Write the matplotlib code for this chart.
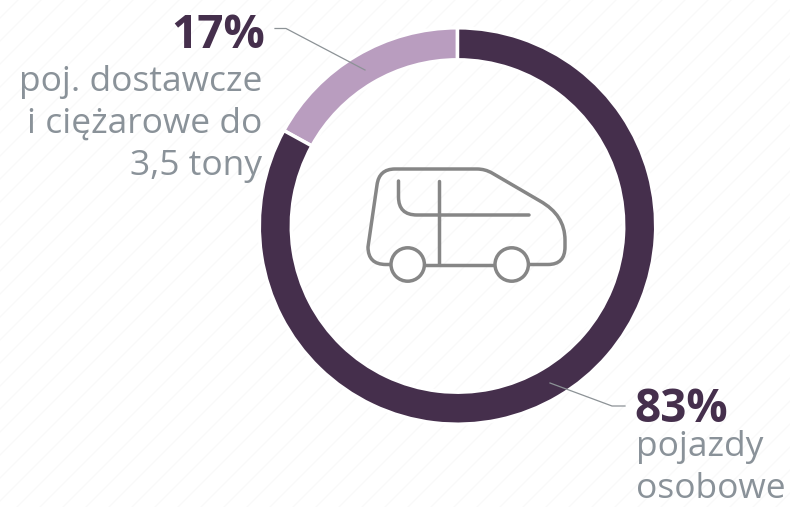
import numpy as np
import matplotlib
matplotlib.use("Agg")
import matplotlib.pyplot as plt
from matplotlib.path import Path
from matplotlib.patches import PathPatch, Circle

# udział pojazdów w parku
shares = [17, 83]
share_labels = ["17%", "83%"]
desc_small = "poj. dostawcze\ni ciężarowe do\n3,5 tony"
desc_large = "pojazdy\nosobowe"

ring_colors = ["#b99dbf", "#452f4c"]
text_dark = "#452f4c"
text_grey = "#8a9299"
icon_grey = "#868686"

plt.rcParams["font.family"] = ["Open Sans", "DejaVu Sans"]

fig = plt.figure(figsize=(7.9, 5.07), dpi=100)
ax = fig.add_axes([0, 0, 1, 1])

# tło w delikatne ukośne paski
for c in np.arange(-100, 1400, 23):
    ax.plot([c, c - 600], [-20, 580], color="#f9f9f9", lw=0.9, zorder=0)

# pierścień - oś y odwrócona, więc kierunek counterclock też
ax.pie(shares, colors=ring_colors, startangle=-90, counterclock=False,
       center=(457.5, 226), radius=198.2,
       wedgeprops=dict(width=32, edgecolor="white", linewidth=2.5, zorder=2))
ax.set_xlim(0, 790)
ax.set_ylim(507, 0)
ax.set_aspect("equal")
ax.axis("off")

# linie odniesienia
ax.plot([275, 286, 365], [28.5, 28.5, 70], color="#8c9296", lw=0.9, zorder=3)
ax.plot([550, 612, 625], [383, 406, 406], color="#8c9296", lw=0.9, zorder=3)

# opisy
ax.text(265, 35, share_labels[0], ha="right", va="center", fontsize=33,
        fontweight="bold", color=text_dark)
ax.text(262, 124, desc_small, ha="right", va="center", fontsize=25.5,
        color=text_grey, linespacing=1.31)
ax.text(634, 410, share_labels[1], ha="left", va="center", fontsize=33,
        fontweight="bold", color=text_dark)
ax.text(636, 468, desc_large, ha="left", va="center", fontsize=25.5,
        color=text_grey, linespacing=1.31)

# ikona samochodu
body = Path(
    [(391, 264.5), (386, 264.5), (368, 264.5), (368, 247),
     (377, 185), (379, 169), (395, 169),
     (477, 169), (485, 169), (492, 173),
     (540, 201), (565, 215), (565, 240),
     (565, 247), (565, 264.5), (548, 264.5), (530, 264.5)],
    [Path.MOVETO, Path.LINETO, Path.CURVE3, Path.CURVE3,
     Path.LINETO, Path.CURVE3, Path.CURVE3,
     Path.LINETO, Path.CURVE3, Path.CURVE3,
     Path.LINETO, Path.CURVE3, Path.CURVE3,
     Path.LINETO, Path.CURVE3, Path.CURVE3, Path.LINETO],
)
inner = Path(
    [(398.5, 181), (398.5, 197), (398.5, 215), (417, 215), (529, 215)],
    [Path.MOVETO, Path.LINETO, Path.CURVE3, Path.CURVE3, Path.LINETO],
)
icon_style = dict(fill=False, edgecolor=icon_grey, lw=2.5, capstyle="round", zorder=3)
ax.add_patch(PathPatch(body, **icon_style))
ax.add_patch(PathPatch(inner, **icon_style))
ax.plot([438.5, 438.5], [181, 264], color=icon_grey, lw=2.5, solid_capstyle="round", zorder=3)
ax.plot([424, 495], [264.5, 264.5], color=icon_grey, lw=2.5, zorder=3)
for wx in (407.7, 511.7):
    ax.add_patch(Circle((wx, 264.5), 16.7, facecolor="white", edgecolor=icon_grey, lw=2.5, zorder=4))

fig.savefig("out.png", dpi=100)
